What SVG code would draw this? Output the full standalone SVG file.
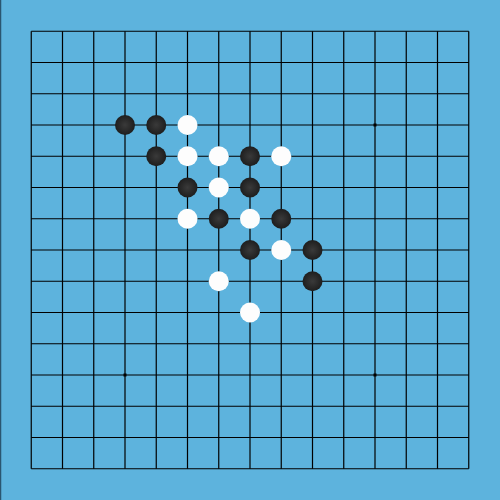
<svg xmlns="http://www.w3.org/2000/svg" width="500" height="500" viewBox="0 0 500 500">
<defs>
<radialGradient id="bg" cx="0.5" cy="0.5" r="0.5">
<stop offset="0" stop-color="#3a3a3a"/>
<stop offset="1" stop-color="#1e1e1e"/>
</radialGradient>
<style>
.g{stroke:#000;stroke-width:1.2;fill:none}
.b{fill:url(#bg)}
.w{fill:#fdfdfd}
.s{fill:#000}
</style>
</defs>
<rect width="500" height="500" fill="#5db3dd"/>
<line x1="0.5" y1="0" x2="0.5" y2="500" stroke="#2a5670" stroke-width="1.5"/>
<g id="grid" class="g">
<path d="M31.25 31.25V468.75M62.5 31.25V468.75M93.75 31.25V468.75M125 31.25V468.75M156.25 31.25V468.75M187.5 31.25V468.75M218.75 31.25V468.75M250 31.25V468.75M281.25 31.25V468.75M312.5 31.25V468.75M343.75 31.25V468.75M375 31.25V468.75M406.25 31.25V468.75M437.5 31.25V468.75M468.75 31.25V468.75"/>
<path d="M31.25 31.25H468.75M31.25 62.5H468.75M31.25 93.75H468.75M31.25 125H468.75M31.25 156.25H468.75M31.25 187.5H468.75M31.25 218.75H468.75M31.25 250H468.75M31.25 281.25H468.75M31.25 312.5H468.75M31.25 343.75H468.75M31.25 375H468.75M31.25 406.25H468.75M31.25 437.5H468.75M31.25 468.75H468.75"/>
</g>
<g id="stars" class="s">
<rect x="123.5" y="123.5" width="3" height="3"/>
<rect x="373.5" y="123.5" width="3" height="3"/>
<rect x="123.5" y="373.5" width="3" height="3"/>
<rect x="373.5" y="373.5" width="3" height="3"/>
<rect x="248.5" y="248.5" width="3" height="3"/>
</g>
<g id="black" class="b">
<circle cx="125" cy="125" r="10"/>
<circle cx="156.25" cy="125" r="10"/>
<circle cx="156.25" cy="156.25" r="10"/>
<circle cx="250" cy="156.25" r="10"/>
<circle cx="187.5" cy="187.5" r="10"/>
<circle cx="250" cy="187.5" r="10"/>
<circle cx="218.75" cy="218.75" r="10"/>
<circle cx="281.25" cy="218.75" r="10"/>
<circle cx="250" cy="250" r="10"/>
<circle cx="312.5" cy="250" r="10"/>
<circle cx="312.5" cy="281.25" r="10"/>
</g>
<g id="white" class="w">
<circle cx="187.5" cy="125" r="10"/>
<circle cx="187.5" cy="156.25" r="10"/>
<circle cx="218.75" cy="156.25" r="10"/>
<circle cx="281.25" cy="156.25" r="10"/>
<circle cx="218.75" cy="187.5" r="10"/>
<circle cx="187.5" cy="218.75" r="10"/>
<circle cx="250" cy="218.75" r="10"/>
<circle cx="281.25" cy="250" r="10"/>
<circle cx="218.75" cy="281.25" r="10"/>
<circle cx="250" cy="312.5" r="10"/>
</g>
</svg>
